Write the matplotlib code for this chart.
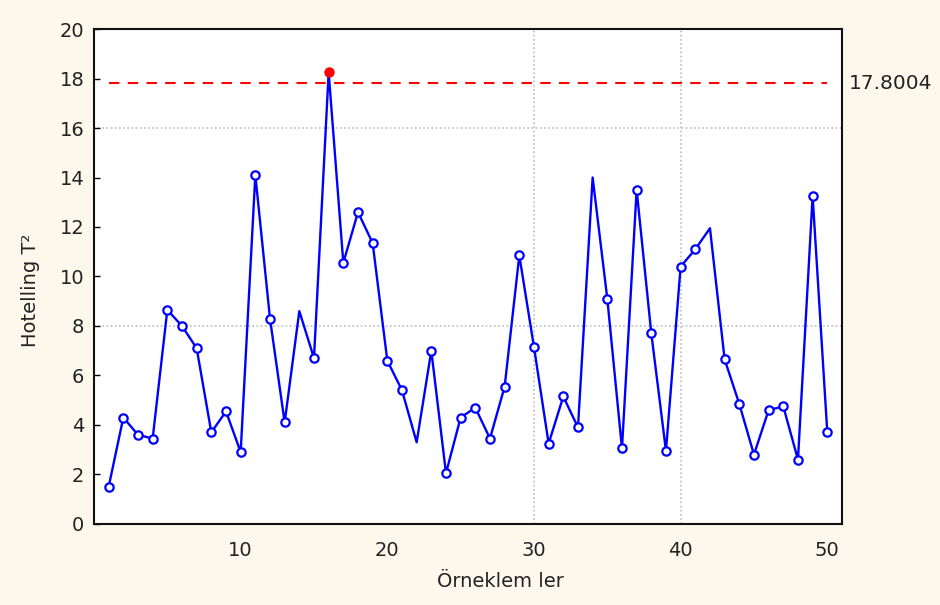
import numpy as np
import matplotlib
matplotlib.use("Agg")
import matplotlib.pyplot as plt

# veriler
orneklem = list(range(1, 51))
t2 = [1.5, 4.3, 3.6, 3.45, 8.65, 8.0, 7.1, 3.7, 4.55, 2.9,
      14.1, 8.3, 4.1, 8.6, 6.7, 18.25, 10.55, 12.6, 11.35, 6.6,
      5.4, 3.3, 7.0, 2.05, 4.3, 4.7, 3.45, 5.55, 10.85, 7.15,
      3.25, 5.15, 3.9, 14.0, 9.1, 3.05, 13.5, 7.7, 2.95, 10.4,
      11.1, 11.95, 6.65, 4.85, 2.8, 4.6, 4.75, 2.6, 13.25, 3.7]
ucl = 17.8004
no_marker = [14, 22, 34, 42]   # tepe noktalarinda isaret yok
yticks = list(range(0, 21, 2))
xticks = [10, 20, 30, 40, 50]

bg = "#fdf8ec"
fig = plt.figure(figsize=(9.4, 6.05), dpi=100, facecolor=bg)
ax = fig.add_axes([0.1, 0.134, 0.7957, 0.818])
ax.set_facecolor("white")

x = np.array(orneklem)
y = np.array(t2)

# grid (sadece bazi cizgiler)
for gy in [8, 16]:
    ax.axhline(gy, color="#bdbdbd", lw=1.2, ls=(0, (1, 1.5)), zorder=0)
for gx in [30, 40]:
    ax.axvline(gx, color="#bdbdbd", lw=1.2, ls=(0, (1, 1.5)), zorder=0)

# kontrol limiti
ax.plot([1, 50], [ucl, ucl], color="red", lw=1.5, ls=(0, (5, 4)), zorder=2)
ax.text(51.45, ucl, "17.8004", fontsize=14.5, va="center", ha="left",
        color="#222222", clip_on=False)

ax.plot(x, y, color="blue", lw=1.7, zorder=3)
mask = [i for i in range(len(x)) if x[i] not in no_marker and y[i] <= ucl]
ax.plot(x[mask], y[mask], ls="none", marker="o", ms=6, mfc="white",
        mec="blue", mew=1.6, zorder=4)
out = y > ucl
ax.plot(x[out], y[out], ls="none", marker="o", ms=6.5, color="red", zorder=5)

ax.set_xlim(0, 51)
ax.set_ylim(0, 20)
ax.set_yticks(yticks)
ax.set_xticks(xticks)
ax.tick_params(axis="y", direction="in", length=4, width=1, labelsize=14,
               pad=7, labelcolor="#222222")
ax.tick_params(axis="x", length=0, labelsize=14, pad=12, labelcolor="#222222")
for s in ax.spines.values():
    s.set_linewidth(1.5)
    s.set_color("#111111")

ax.set_ylabel("Hotelling T²", fontsize=14, color="#222222")
ax.yaxis.set_label_coords(-0.072, 0.473)
ax.set_xlabel("Örneklem ler", fontsize=14, color="#222222")
ax.xaxis.set_label_coords(0.543, -0.097)

plt.savefig("out.png", dpi=100, facecolor=bg)
